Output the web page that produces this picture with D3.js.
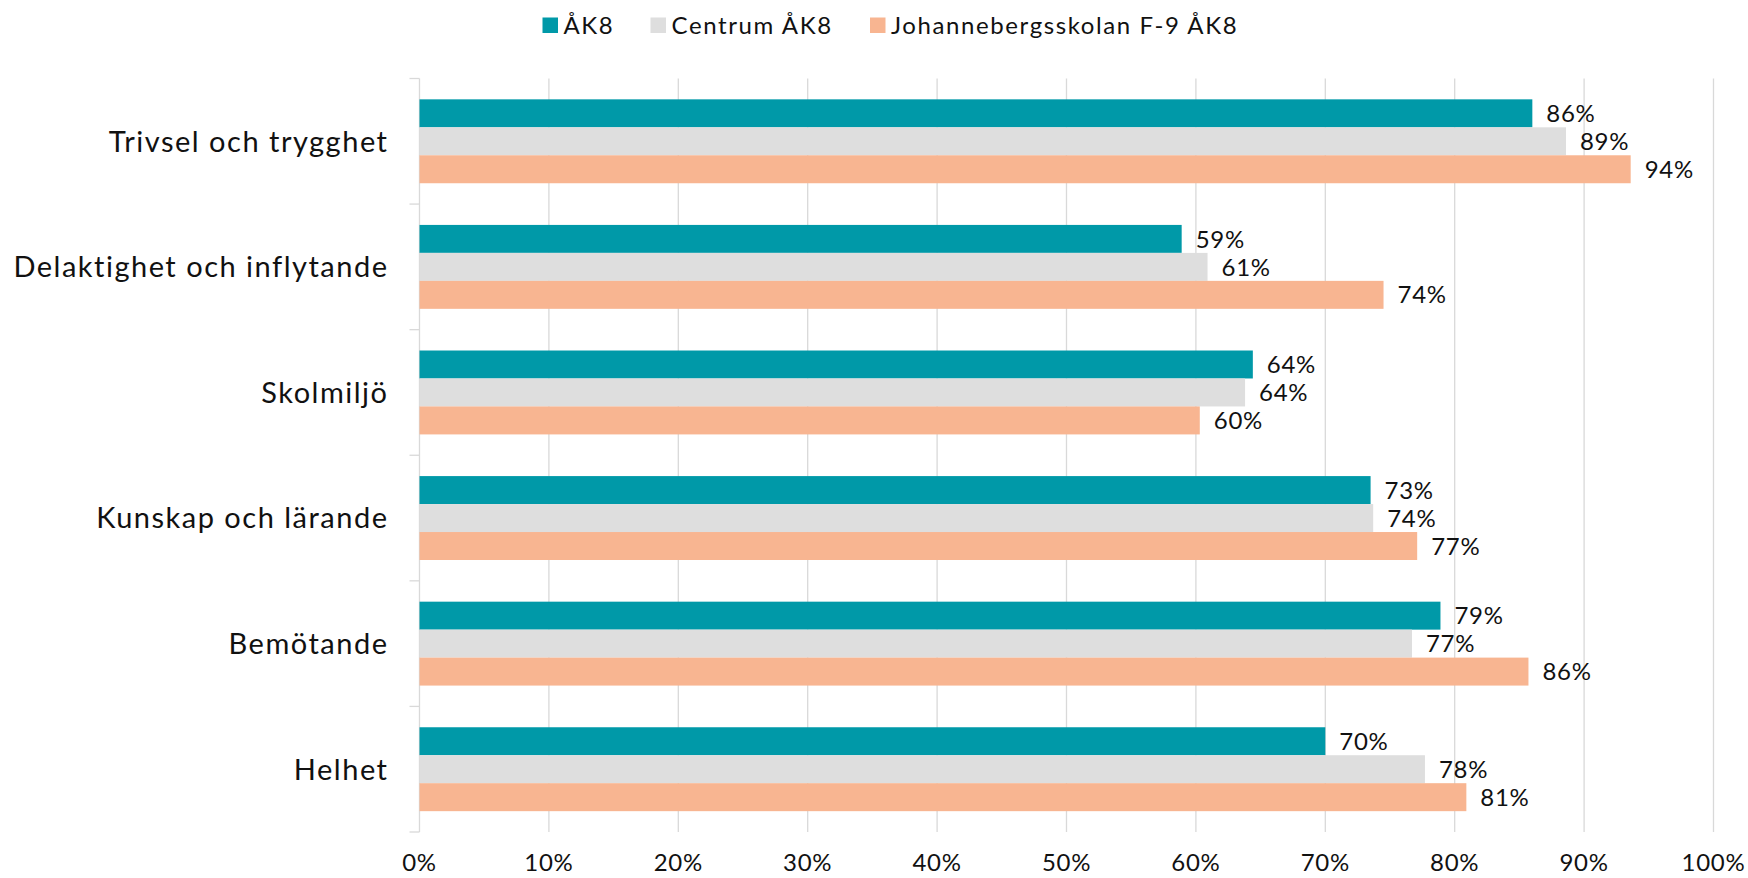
<!DOCTYPE html>
<html>
<head>
<meta charset="utf-8">
<script src="https://cdn.jsdelivr.net/npm/d3@7"></script>
<style>
  body { margin: 0; background: #fff; }
  text { font-family: Lato, sans-serif; fill: #111; }
</style>
</head>
<body>
<script>
// data
var categories = ["Trivsel och trygghet", "Delaktighet och inflytande", "Skolmiljö", "Kunskap och lärande", "Bemötande", "Helhet"]
var seriesNames = ["ÅK8", "Centrum ÅK8", "Johannebergsskolan F-9 ÅK8"]
var seriesColors = ["#0099a8", "#dedede", "#f8b591"]
var ak8 = [0.860, 0.589, 0.644, 0.735, 0.789, 0.700]
var centrum = [0.886, 0.609, 0.638, 0.737, 0.767, 0.777]
var johanneberg = [0.936, 0.745, 0.603, 0.771, 0.857, 0.809]
var valueLabels = [
  ["86%", "59%", "64%", "73%", "79%", "70%"],
  ["89%", "61%", "64%", "74%", "77%", "78%"],
  ["94%", "74%", "60%", "77%", "86%", "81%"]
]
var xTicks = [0, 0.1, 0.2, 0.3, 0.4, 0.5, 0.6, 0.7, 0.8, 0.9, 1]

var seriesValues = [ak8, centrum, johanneberg]

var W = 1748, H = 878
var margin = {top: 78.5, right: 34.5, bottom: 46, left: 419.5},
    w = W - margin.left - margin.right,
    h = H - margin.top - margin.bottom

var svg = d3.select("body").append("svg")
    .attr("width", W).attr("height", H)

var g = svg.append("g")
    .attr("transform", `translate(${margin.left}, ${margin.top})`)

var x = d3.scaleLinear().domain([0, 1]).range([0, w])

var y0 = d3.scaleBand().domain(categories).range([0, h]).padding(0)

var y1 = d3.scaleBand().domain(d3.range(seriesNames.length))
    .range([0, y0.bandwidth()])
    .paddingInner(0).paddingOuter(0.745)

// gridlines
g.selectAll("line.grid").data(xTicks.slice(1)).enter()
  .append("line")
    .attr("class", "grid")
    .attr("x1", d => x(d)).attr("x2", d => x(d))
    .attr("y1", 0).attr("y2", h)
    .attr("stroke", "#d9d9d9").attr("stroke-width", 1.3)

// left axis line and category ticks
g.append("line")
    .attr("x1", 0).attr("x2", 0).attr("y1", 0).attr("y2", h)
    .attr("stroke", "#d9d9d9").attr("stroke-width", 1.3)

var bounds = categories.map(c => y0(c)).concat([h])
g.selectAll("line.ctick").data(bounds).enter()
  .append("line")
    .attr("class", "ctick")
    .attr("x1", -10).attr("x2", 0)
    .attr("y1", d => d).attr("y2", d => d)
    .attr("stroke", "#d9d9d9").attr("stroke-width", 1.3)

// bars
seriesValues.forEach(function(vals, s){
  var rows = categories.map((c, i) => ({cat: c, v: vals[i], label: valueLabels[s][i]}))
  var grp = g.append("g")
  grp.selectAll("rect").data(rows).enter()
    .append("rect")
      .attr("x", 0)
      .attr("y", d => y0(d.cat) + y1(s))
      .attr("width", d => x(d.v))
      .attr("height", y1.bandwidth())
      .attr("fill", seriesColors[s])
  grp.selectAll("text").data(rows).enter()
    .append("text")
      .attr("x", d => x(d.v) + 14)
      .attr("y", d => y0(d.cat) + y1(s) + y1.bandwidth() / 2)
      .attr("dy", "0.36em")
      .attr("font-size", 24)
      .attr("letter-spacing", 0.7)
      .text(d => d.label)
})

// category labels
g.selectAll("text.cat").data(categories).enter()
  .append("text")
    .attr("class", "cat")
    .attr("x", -31)
    .attr("y", d => y0(d) + y0.bandwidth() / 2)
    .attr("dy", "0.36em")
    .attr("text-anchor", "end")
    .attr("font-size", 29)
    .attr("letter-spacing", 1.5)
    .text(d => d)

// x tick labels
g.selectAll("text.xt").data(xTicks).enter()
  .append("text")
    .attr("class", "xt")
    .attr("x", d => x(d))
    .attr("y", h + 39)
    .attr("text-anchor", "middle")
    .attr("font-size", 24)
    .attr("letter-spacing", 0.7)
    .text(d => d3.format(".0%")(d))

// legend
var legendX = [542.5, 650.5, 870]
var leg = svg.append("g")
seriesNames.forEach(function(n, i){
  leg.append("rect")
    .attr("x", legendX[i]).attr("y", 17.5)
    .attr("width", 15.5).attr("height", 15.5)
    .attr("fill", seriesColors[i])
  leg.append("text")
    .attr("x", legendX[i] + 21).attr("y", 33.5)
    .attr("font-size", 24)
    .attr("letter-spacing", 1.6)
    .text(n)
})
</script>
</body>
</html>
